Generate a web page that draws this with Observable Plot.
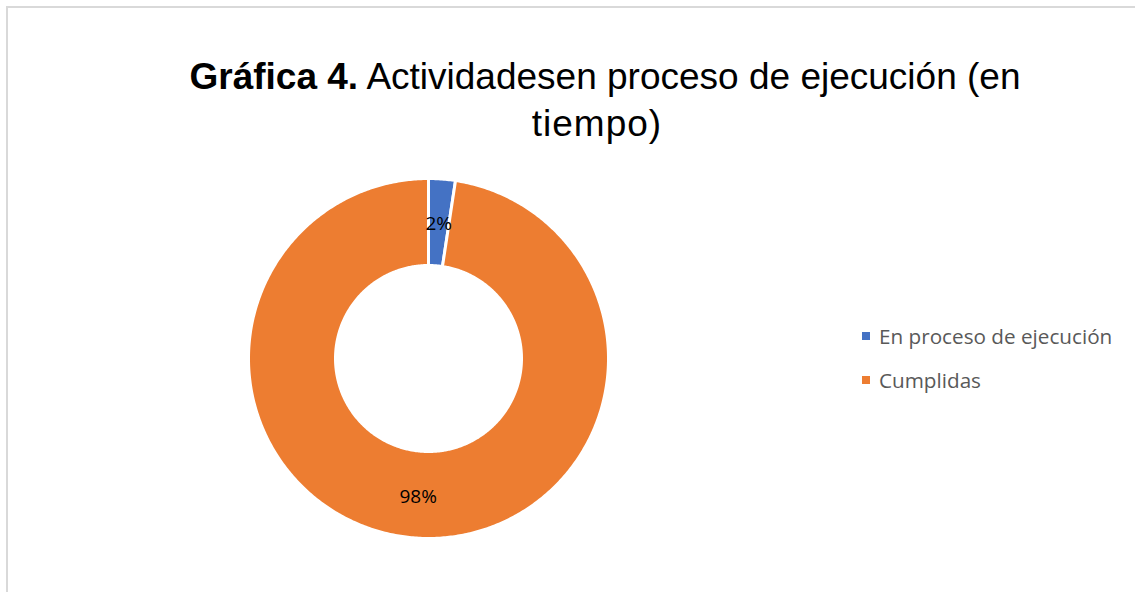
<!DOCTYPE html>
<html>
<head>
<meta charset="utf-8">
<script src="https://cdn.jsdelivr.net/npm/d3@7"></script>
<script src="https://cdn.jsdelivr.net/npm/@observablehq/plot@0.6"></script>
<style>
  html, body { margin: 0; padding: 0; background: #fff; }
  #page { position: relative; width: 1135px; height: 592px; overflow: hidden; }
  #frame { position: absolute; left: 6px; top: 6px; width: 1200px; height: 700px; border: 2px solid #d9d9d9; box-sizing: border-box; }
  #title { position: absolute; left: 100px; width: 1010px; top: 53px; text-align: center;
           font-family: "Liberation Sans", Arial, sans-serif; font-size: 37px; line-height: 47px; color: #000; }
  #title b { font-weight: bold; }
  #title .l2 { position: relative; left: -8px; letter-spacing: 1px; }
  #chart { position: absolute; left: 0; top: 0; }
  #legend { position: absolute; left: 862px; top: 323px; font-family: "Open Sans", sans-serif; font-size: 20.7px; color: #595959; }
  .item { display: flex; align-items: center; height: 26px; margin-bottom: 18px; white-space: nowrap; }
  .sw { width: 8px; height: 8px; margin-right: 9px; display: inline-block; }
</style>
</head>
<body>
<div id="page">
  <div id="frame"></div>
  <div id="title"><b>Gráfica 4.</b> Actividadesen proceso de ejecución (en<br><span class="l2">tiempo)</span></div>
  <div id="chart"></div>
  <div id="legend"></div>
</div>
<script>
const categories = ["En proceso de ejecución", "Cumplidas"];
const values = [2.4, 97.6];
const labels = ["2%", "98%"];
const colors = ["#4472C4", "#ED7D31"];

const innerRatio = 93 / 180;
const pie = d3.pie().sort(null).value(d => d.value);
const arcs = pie(categories.map((c, i) => ({cat: c, value: values[i], label: labels[i]})));

// polygon outline of each donut segment in unit coordinates (y up)
const pts = [];
for (const a of arcs) {
  const n = Math.max(4, Math.ceil((a.endAngle - a.startAngle) / 0.01));
  for (let k = 0; k <= n; k++) {
    const t = a.startAngle + (a.endAngle - a.startAngle) * k / n;
    pts.push({cat: a.data.cat, x: Math.sin(t), y: Math.cos(t)});
  }
  for (let k = n; k >= 0; k--) {
    const t = a.startAngle + (a.endAngle - a.startAngle) * k / n;
    pts.push({cat: a.data.cat, x: innerRatio * Math.sin(t), y: innerRatio * Math.cos(t)});
  }
}
const mid = (1 + innerRatio) / 2;
const labelPts = arcs.map(a => {
  const t = (a.startAngle + a.endAngle) / 2;
  return {label: a.data.label, x: mid * Math.sin(t), y: mid * Math.cos(t)};
});

const plot = Plot.plot({
  width: 1135,
  height: 592,
  margin: 0,
  style: {background: "transparent", overflow: "visible"},
  x: {domain: [-1, 1], range: [248, 608], axis: null},
  y: {domain: [-1, 1], range: [538, 178], axis: null},
  color: {domain: categories, range: colors},
  marks: [
    Plot.line(pts, {x: "x", y: "y", z: "cat", fill: "cat", stroke: "white", strokeWidth: 3, curve: "linear-closed"}),
    Plot.text(labelPts, {x: "x", y: "y", text: "label", fontSize: 19, fill: "#000", dy: 2,
      fontFamily: "Open Sans, sans-serif"})
  ]
});
document.getElementById("chart").appendChild(plot);

const legend = document.getElementById("legend");
categories.forEach((c, i) => {
  const it = document.createElement("div");
  it.className = "item";
  it.innerHTML = `<span class="sw" style="background:${colors[i]}"></span><span>${c}</span>`;
  legend.appendChild(it);
});
</script>
</body>
</html>
